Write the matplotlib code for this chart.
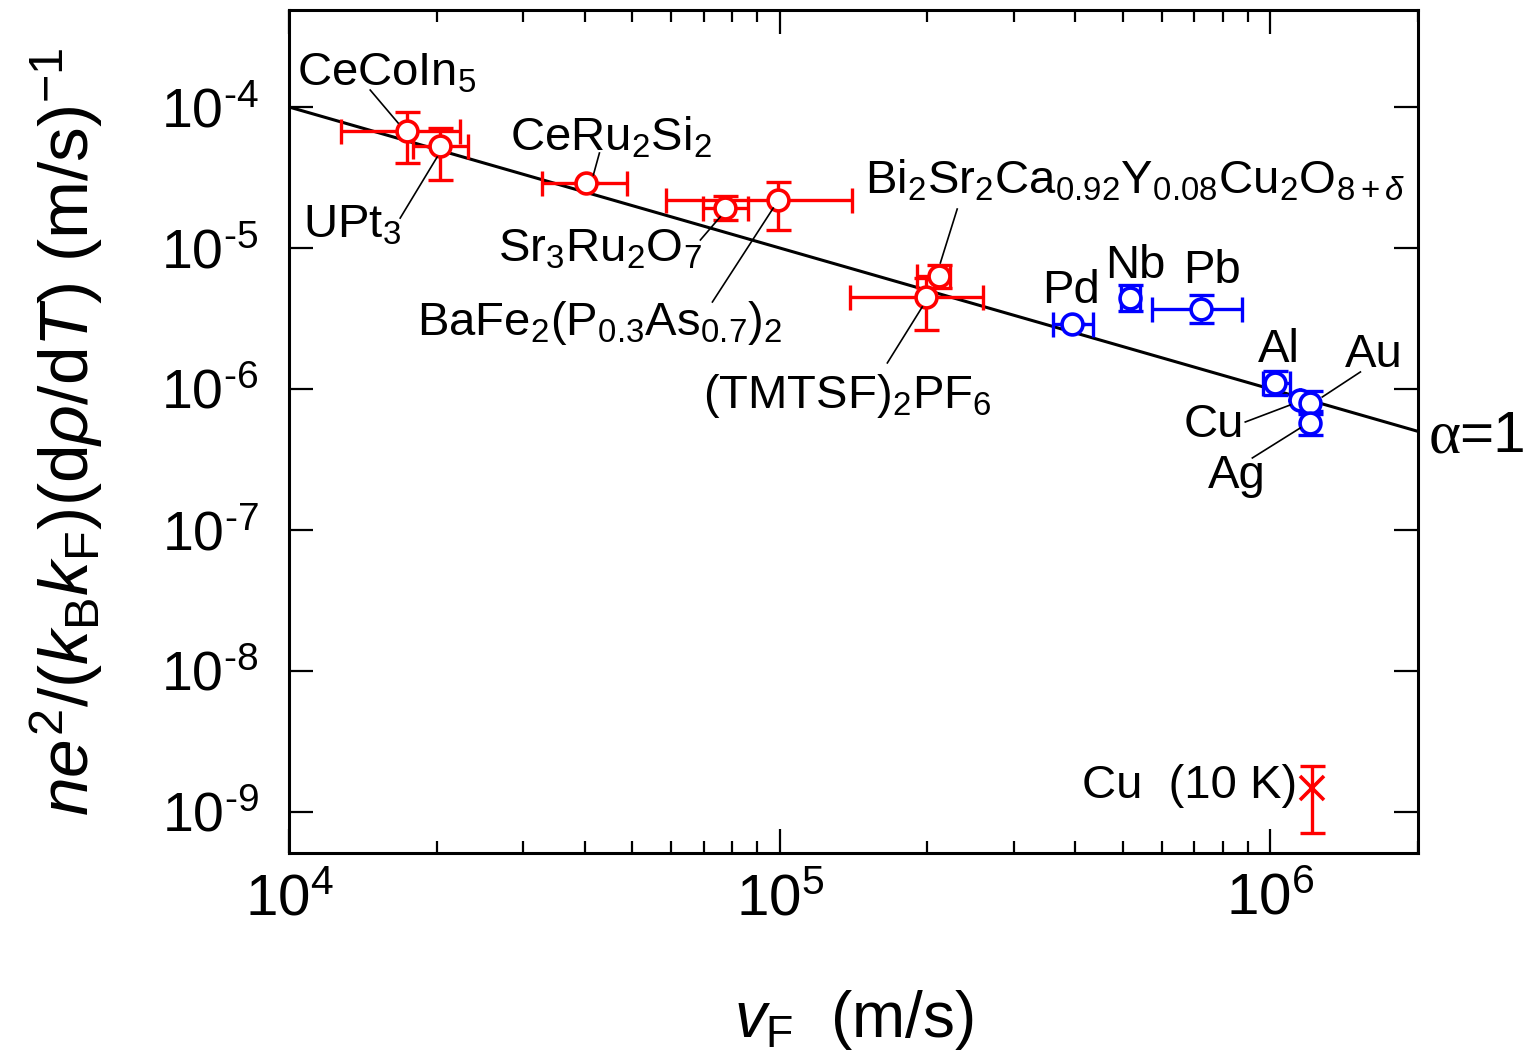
import numpy as np
import matplotlib
matplotlib.use('Agg')
import matplotlib.pyplot as plt
from matplotlib.ticker import LogLocator, NullLocator, NullFormatter, FuncFormatter

plt.rcParams['font.family'] = ['Liberation Sans', 'DejaVu Sans']
plt.rcParams['mathtext.fontset'] = 'custom'
plt.rcParams['mathtext.rm'] = 'Liberation Sans'
plt.rcParams['mathtext.it'] = 'Liberation Sans:italic'
plt.rcParams['mathtext.bf'] = 'Liberation Sans:bold'
plt.rcParams['axes.unicode_minus'] = False

# correlated / unconventional metals (red)
red_names = ['CeCoIn5', 'UPt3', 'CeRu2Si2', 'Sr3Ru2O7', 'BaFe2(P,As)2', 'Bi2212', 'TMTSF']
red_vf = [1.74e4, 2.03e4, 4.03e4, 7.74e4, 9.93e4, 2.11e5, 1.99e5]
red_y = [6.76e-5, 5.29e-5, 2.89e-5, 1.92e-5, 2.19e-5, 6.33e-6, 4.49e-6]
red_vf_lo = [1.276e4, 1.79e4, 3.28e4, 6.98e4, 5.87e4, 1.907e5, 1.392e5]
red_vf_hi = [2.23e4, 2.32e4, 4.89e4, 8.63e4, 1.405e5, 2.227e5, 2.60e5]
red_y_lo = [4.01e-5, 3.04e-5, 2.89e-5, 1.58e-5, 1.34e-5, 5.2e-6, 2.62e-6]
red_y_hi = [9.21e-5, 7.1e-5, 2.89e-5, 2.34e-5, 2.94e-5, 7.57e-6, 6.13e-6]

# simple metals (blue)
blue_names = ['Pd', 'Nb', 'Pb', 'Al', 'Cu', 'Au', 'Ag']
blue_vf = [3.95e5, 5.18e5, 7.23e5, 1.024e6, 1.151e6, 1.206e6, 1.206e6]
blue_y = [2.89e-6, 4.42e-6, 3.69e-6, 1.10e-6, 8.36e-7, 7.96e-7, 5.74e-7]
blue_vf_lo = [3.61e5, 4.95e5, 5.75e5, 9.67e5, 1.151e6, 1.206e6, 1.206e6]
blue_vf_hi = [4.36e5, 5.42e5, 8.77e5, 1.098e6, 1.151e6, 1.206e6, 1.206e6]
blue_y_lo = [2.89e-6, 3.58e-6, 2.94e-6, 0.904e-6, 8.36e-7, 6.6e-7, 4.72e-7]
blue_y_hi = [2.89e-6, 5.46e-6, 4.64e-6, 1.34e-6, 8.36e-7, 9.6e-7, 6.98e-7]

# Cu at 10 K
cu10_vf = [1.218e6]
cu10_y = [1.48e-9]
cu10_y_lo = [7.1e-10]
cu10_y_hi = [2.12e-9]

# alpha = 1 line
line_vf = [1e4, 2e6]

# material labels: text, x, y (baseline-left, data units)
labels = [
    (r'$\mathrm{CeCoIn}_5$', 1.038e4, 1.43e-4),
    (r'$\mathrm{UPt}_3$', 1.068e4, 1.18e-5),
    (r'$\mathrm{CeRu}_2\mathrm{Si}_2$', 2.82e4, 4.95e-5),
    (r'$\mathrm{Sr}_3\mathrm{Ru}_2\mathrm{O}_7$', 2.67e4, 7.96e-6),
    (r'$\mathrm{BaFe}_2(\mathrm{P}_{0.3}\mathrm{As}_{0.7})_2$', 1.824e4, 2.41e-6),
    (r'$\mathrm{Bi}_2\mathrm{Sr}_2\mathrm{Ca}_{0.92}\mathrm{Y}_{0.08}\mathrm{Cu}_2\mathrm{O}_{8+\delta}$', 1.494e5, 2.45e-5),
    (r'$\mathrm{(TMTSF)}_2\mathrm{PF}_6$', 6.98e4, 7.33e-7),
    ('Pd', 3.43e5, 4.07e-6),
    ('Nb', 4.61e5, 6.13e-6),
    ('Pb', 6.65e5, 5.65e-6),
    ('Al', 9.45e5, 1.55e-6),
    ('Au', 1.422e6, 1.43e-6),
    ('Cu', 6.65e5, 4.57e-7),
    ('Ag', 7.47e5, 1.99e-7),
    ('Cu  (10 K)', 4.14e5, 1.26e-9),
]

# leader lines: (x0, y0, x1, y1)
leaders = [
    (1.463e4, 1.32e-4, 1.668e4, 7.7e-5),
    (1.684e4, 1.63e-5, 2.003e4, 4.42e-5),
    (4.29e4, 4.72e-5, 4.17e4, 3.3e-5),
    (6.89e4, 1.14e-5, 7.56e4, 1.66e-5),
    (7.29e4, 4.14e-6, 9.7e4, 1.92e-5),
    (2.30e5, 1.89e-5, 2.125e5, 7.83e-6),
    (1.657e5, 1.53e-6, 1.952e5, 3.82e-6),
    (1.526e6, 1.32e-6, 1.276e6, 8.77e-7),
    (8.89e5, 5.83e-7, 1.098e6, 7.7e-7),
    (9.19e5, 3.24e-7, 1.151e6, 5.29e-7),
]


def asym(vals, lo, hi):
    vals = np.array(vals)
    return [vals - np.array(lo), np.array(hi) - vals]


def pow10(v, pos):
    e = int(round(np.log10(v)))
    if e < 0:
        return r'$10^{\text{-}%d}$' % (-e)
    return r'$10^{%d}$' % e


fig = plt.figure(figsize=(15.38, 10.63), dpi=100)
ax = fig.add_axes([0.188, 0.1975, 0.734, 0.7931])
ax.set_xscale('log')
ax.set_yscale('log')

line_vf = np.array(line_vf)
ax.plot(line_vf, 1.0 / line_vf, color='black', lw=2.2, zorder=2)

eb_kw = dict(fmt='none', elinewidth=2.4, capsize=9, capthick=2.4, zorder=3)
ax.errorbar(red_vf, red_y, xerr=asym(red_vf, red_vf_lo, red_vf_hi),
            yerr=asym(red_y, red_y_lo, red_y_hi), ecolor='red', **eb_kw)
ax.errorbar(blue_vf, blue_y, xerr=asym(blue_vf, blue_vf_lo, blue_vf_hi),
            yerr=asym(blue_y, blue_y_lo, blue_y_hi), ecolor='blue', **eb_kw)
ax.errorbar(cu10_vf, cu10_y, yerr=asym(cu10_y, cu10_y_lo, cu10_y_hi),
            ecolor='red', **eb_kw)

ax.plot(red_vf, red_y, 'o', ms=15, mfc='white', mec='red', mew=2.6, ls='none', zorder=4)
ax.plot(blue_vf, blue_y, 'o', ms=15, mfc='white', mec='blue', mew=2.6, ls='none', zorder=4)
ax.plot(cu10_vf, cu10_y, 'x', ms=17, mec='red', mew=2.6, ls='none', zorder=4)

for txt, x, y in labels:
    ax.text(x, y, txt, fontsize=34, ha='left', va='baseline', zorder=5)
for x0, y0, x1, y1 in leaders:
    ax.plot([x0, x1], [y0, y1], color='black', lw=1.2, zorder=5)

# slope label outside the right spine
ax.text(2.10e6, 3.57e-7, 'α', fontsize=44, family='Liberation Serif',
        ha='left', va='baseline', clip_on=False)
ax.annotate('=1', xy=(2.10e6, 3.57e-7), xytext=(22, 0), textcoords='offset points',
            fontsize=42, ha='left', va='baseline', annotation_clip=False)

ax.set_xlim(1e4, 2.0e6)
ax.set_ylim(5.1e-10, 4.88e-4)

ax.yaxis.set_major_locator(LogLocator(base=10, numticks=20))
ax.yaxis.set_minor_locator(NullLocator())
ax.yaxis.set_major_formatter(FuncFormatter(pow10))
ax.xaxis.set_major_formatter(FuncFormatter(pow10))
ax.xaxis.set_minor_formatter(NullFormatter())

ax.tick_params(which='both', direction='in', top=True, right=True, width=1.6)
ax.tick_params(which='major', length=17)
ax.tick_params(which='minor', length=8.5)
ax.tick_params(axis='y', labelsize=40, pad=22)
ax.tick_params(axis='x', labelsize=42, pad=14)
for sp in ax.spines.values():
    sp.set_linewidth(2.2)

ax.set_xlabel(r'$v_\mathrm{F}$  (m/s)', fontsize=46, labelpad=44)
ax.set_ylabel(r'$ne^2/(k_\mathrm{B}k_\mathrm{F})(\mathrm{d}\rho/\mathrm{d}T)$ (m/s)$^{-1}$',
              fontsize=50, labelpad=40)

fig.savefig('out.png', dpi=100)
